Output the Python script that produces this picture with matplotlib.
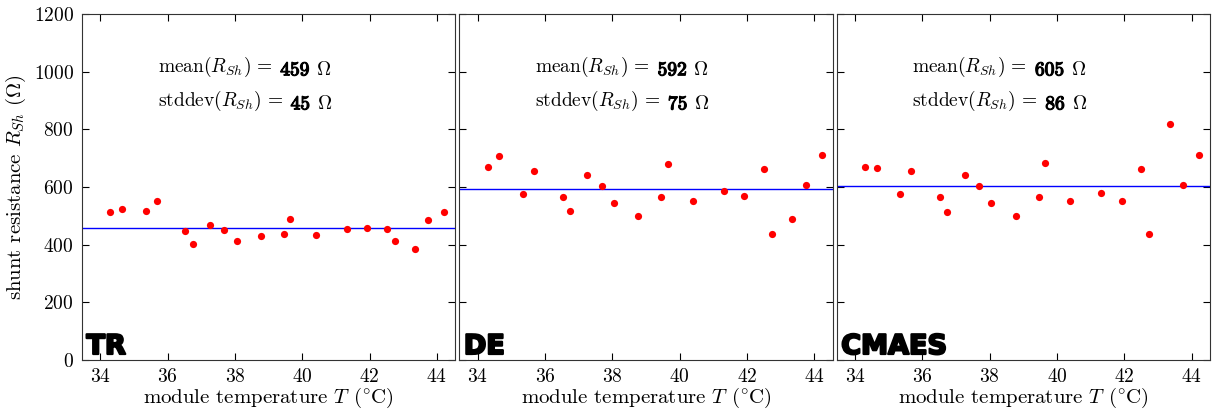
import matplotlib
matplotlib.use("Agg")
import matplotlib.pyplot as plt
import matplotlib.patheffects as pe

plt.rcParams['font.family'] = 'serif'
plt.rcParams['font.serif'] = ['cmr10', 'DejaVu Serif']
plt.rcParams['mathtext.fontset'] = 'cm'
plt.rcParams['axes.unicode_minus'] = False
plt.rcParams['axes.formatter.use_mathtext'] = True

# module temperatures (°C)
temps = [34.29, 34.64, 35.34, 35.67, 36.52, 36.74, 37.25, 37.68, 38.05, 38.77,
         39.45, 39.64, 40.40, 41.32, 41.92, 42.51, 42.75, 43.35, 43.75, 44.22]

# shunt resistance estimates (Ohm) per method
r_tr = [514, 523, 517, 551, 448, 403, 469, 450, 412, 429,
        438, 488, 435, 456, 459, 456, 414, 386, 486, 514]
r_de = [668, 706, 577, 655, 565, 516, 641, 605, 546, 501,
        564, 680, 552, 587, 569, 662, 437, 488, 607, 711]
r_cmaes = [669, 665, 577, 655, 565, 515, 641, 605, 545, 501,
           565, 682, 552, 580, 550, 662, 436, 819, 607, 711]

methods = ['TR', 'DE', 'CMAES']
means = [459, 592, 605]
stds = [45, 75, 86]
series = [r_tr, r_de, r_cmaes]

fig, axes = plt.subplots(1, 3, figsize=(12.15, 4.12), dpi=100, sharey=True)
fig.subplots_adjust(left=82/1215, right=1210/1215, top=1-14/412,
                    bottom=1-360/412, wspace=0.011)

bold = [pe.withStroke(linewidth=0.9, foreground='black')]


def stat_line(ax, y, label, value):
    # label in roman, number in bold, then the unit
    t1 = ax.text(35.7, y, r'$\mathrm{%s}(R_{Sh})\,=$' % label,
                 fontsize=14, va='baseline', ha='left')
    t2 = ax.annotate(r'$\mathbf{%d}$' % value, xy=(1, 0), xycoords=t1,
                     xytext=(5.5, 0), textcoords='offset points',
                     fontsize=14, va='bottom', ha='left', path_effects=bold)
    ax.annotate(r'$\Omega$', xy=(1, 0), xycoords=t2,
                xytext=(4, 0), textcoords='offset points',
                fontsize=14, va='bottom', ha='left')


for ax, name, vals, m, s in zip(axes, methods, series, means, stds):
    ax.axhline(m, color='blue', linewidth=1)
    ax.plot(temps, vals, 'o', color='red', markersize=5.2, markeredgewidth=0)
    ax.set_xlim(33.45, 44.55)
    ax.set_ylim(0, 1200)
    ax.set_xticks([34, 36, 38, 40, 42, 44])
    ax.set_yticks(range(0, 1201, 200))
    ax.tick_params(direction='in', top=True, right=True, length=5,
                   labelsize=14, pad=6)
    for sp in ax.spines.values():
        sp.set_color('#333333')
    stat_line(ax, 998, 'mean', m)
    stat_line(ax, 880, 'stddev', s)
    ax.text(0.012, 0.0, name, transform=ax.transAxes, fontsize=19.5,
            fontweight='heavy', family='DejaVu Sans', va='bottom', ha='left',
            path_effects=[pe.withStroke(linewidth=1.6, foreground='black')])
    ax.set_xlabel(r'module temperature $T$ ($^{\circ}\mathrm{C}$)', fontsize=15,
                  labelpad=0)

axes[0].set_ylabel(r'shunt resistance $R_{Sh}$ ($\Omega$)', fontsize=15)

fig.savefig('out.png', dpi=100)
